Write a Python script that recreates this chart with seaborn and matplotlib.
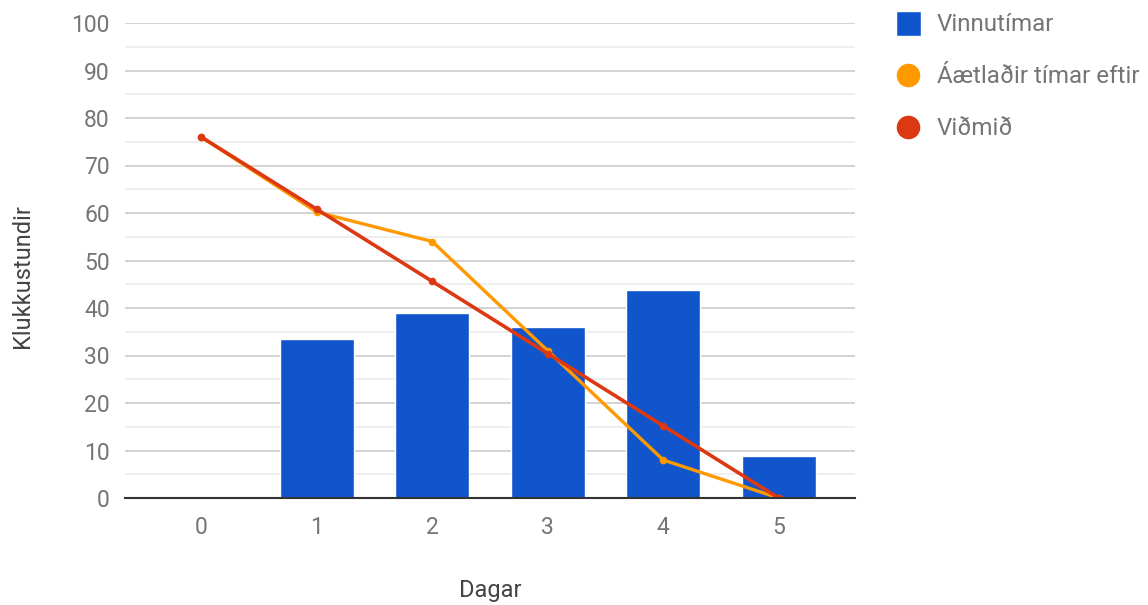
import matplotlib
matplotlib.use("Agg")
import matplotlib.pyplot as plt
import seaborn as sns
import pandas as pd
from matplotlib.lines import Line2D

days = [0, 1, 2, 3, 4, 5]
vinnutimar = [0, 33.5, 39, 36, 43.7, 8.8]
aetladir = [76, 60.2, 54, 31, 8, 0]
vidmid = [76, 60.8, 45.6, 30.4, 15.2, 0]
yticks = [0, 10, 20, 30, 40, 50, 60, 70, 80, 90, 100]

sns.set_theme(style="white")
plt.rcParams['font.family'] = ['Roboto', 'DejaVu Sans']

BLUE = "#1155cc"
ORANGE = "#ff9900"
RED = "#dc3912"
TXT = "#757575"

fig = plt.figure(figsize=(11.48, 6.05), dpi=100)
ax = fig.add_axes([125/1148, 107/605, 730/1148, 475/605])

df = pd.DataFrame({"Dagar": days, "Vinnutímar": vinnutimar,
                   "Áætlaðir": aetladir, "Viðmið": vidmid})

# gridlines
for v in range(5, 100, 10):
    ax.axhline(v, color="#ebebeb", lw=1.2, zorder=0)
for v in yticks[1:]:
    ax.axhline(v, color="#cccccc", lw=1.2, zorder=0)

sns.barplot(data=df, x="Dagar", y="Vinnutímar", color=BLUE, saturation=1,
            width=0.64, ax=ax, zorder=2)
sns.lineplot(x=list(range(len(days))), y=aetladir, color=ORANGE, lw=2.4,
             marker="o", markersize=5.5, markeredgewidth=0, ax=ax, zorder=3)
sns.lineplot(x=list(range(len(days))), y=vidmid, color=RED, lw=2.6,
             marker="o", markersize=5.5, markeredgewidth=0, ax=ax, zorder=4)

ax.set_xlim(-0.66, 5.66)
ax.set_ylim(0, 100)
ax.set_yticks(yticks)
ax.set_yticklabels([str(v) for v in yticks])
ax.set_xticks(range(len(days)))
ax.set_xticklabels([str(d) for d in days])
ax.tick_params(axis="both", length=0, labelsize=16.5, colors=TXT)
ax.tick_params(axis="y", pad=11)
ax.tick_params(axis="x", pad=13)
for s in ["top", "right", "left"]:
    ax.spines[s].set_visible(False)
ax.spines["bottom"].set_color("#333333")
ax.spines["bottom"].set_linewidth(1.5)
ax.spines["bottom"].set_zorder(5)

ax.set_xlabel("Dagar", fontsize=17, color="#444444", labelpad=29)
ax.set_ylabel("Klukkustundir", fontsize=17, color="#444444", labelpad=27)
ax.yaxis.label.set_y(0.467)

handles = [
    Line2D([], [], marker="s", color="w", markerfacecolor=BLUE, markersize=18, lw=0),
    Line2D([], [], marker="o", color="w", markerfacecolor=ORANGE, markersize=18, lw=0),
    Line2D([], [], marker="o", color="w", markerfacecolor=RED, markersize=18, lw=0),
]
labels = ["Vinnutímar", "Áætlaðir tímar eftir", "Viðmið"]
leg = fig.legend(handles, labels, loc="upper left",
                 bbox_to_anchor=(893/1148, 1 - 13/605), frameon=False,
                 fontsize=17.4, labelspacing=1.2, handletextpad=0.62,
                 handlelength=1.2, borderaxespad=0, borderpad=0)
for t in leg.get_texts():
    t.set_color(TXT)

fig.savefig("out.png", dpi=100)
